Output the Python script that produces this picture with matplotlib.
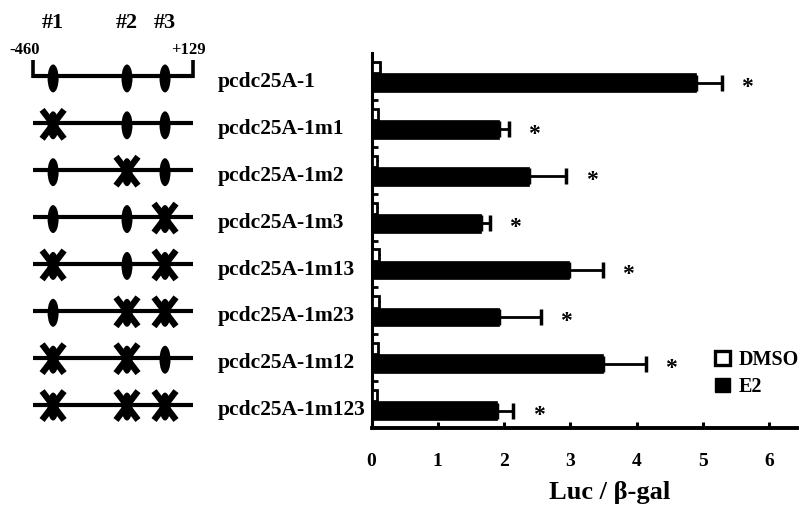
#!/usr/bin/env python3

import numpy as np
import matplotlib
matplotlib.use("Agg")
import matplotlib.pyplot as plt
from matplotlib.patches import Ellipse, Patch


##### data #####
CONSTRUCTS = ["pcdc25A-1", "pcdc25A-1m1", "pcdc25A-1m2", "pcdc25A-1m3",
              "pcdc25A-1m13", "pcdc25A-1m23", "pcdc25A-1m12", "pcdc25A-1m123"]

# which E2 response sites (1, 2, 3) are mutated in each construct
MUTATED = [[], [1], [2], [3], [1, 3], [2, 3], [1, 2], [1, 2, 3]]

DMSO = [0.13, 0.10, 0.09, 0.09, 0.12, 0.12, 0.10, 0.08]
DMSO_ERR = [0.03, 0.02, 0.02, 0.02, 0.03, 0.03, 0.02, 0.02]
E2 = [4.89, 1.92, 2.38, 1.65, 2.98, 1.92, 3.49, 1.90]
E2_ERR = [0.39, 0.15, 0.56, 0.14, 0.51, 0.64, 0.65, 0.24]

XTICKS = [0, 1, 2, 3, 4, 5, 6]

# promoter map (bp relative to transcription start)
PROMOTER_START = -460
PROMOTER_END = 129
SITE_POS = [-386, -114, 26]
SITE_NAMES = ["#1", "#2", "#3"]


##### layout #####
W, H = 799, 512
AX_LEFT, AX_RIGHT = 371.5, 797
AX_TOP, AX_BOTTOM = 53, 428
FONT = "Liberation Serif"

plt.rcParams["font.family"] = FONT
plt.rcParams["font.weight"] = "bold"

fig = plt.figure(figsize=(W / 100, H / 100), dpi=100)

ax = fig.add_axes([AX_LEFT / W, 1 - AX_BOTTOM / H,
                   (AX_RIGHT - AX_LEFT) / W, (AX_BOTTOM - AX_TOP) / H])
axd = fig.add_axes([0, 1 - AX_BOTTOM / H, AX_LEFT / W, (AX_BOTTOM - AX_TOP) / H],
                   sharey=ax)

n = len(CONSTRUCTS)
y = np.arange(n)

##### bars #####
y_dmso = y - 0.19
y_e2 = y + 0.13

ax.barh(y_dmso, DMSO, height=0.24, color="white", edgecolor="black",
        linewidth=2.0, zorder=3)
ax.errorbar(DMSO, y_dmso, xerr=[np.zeros(n), DMSO_ERR], fmt="none",
            ecolor="black", elinewidth=1.5, capsize=0, zorder=2)

ax.barh(y_e2, E2, height=0.40, color="black", edgecolor="black",
        linewidth=0.5, zorder=3)
ax.errorbar(E2, y_e2, xerr=[np.zeros(n), E2_ERR], fmt="none",
            ecolor="black", elinewidth=2.0, capsize=5.5, capthick=2.5, zorder=2)

for yi, v, e in zip(y_e2, E2, E2_ERR):
    ax.text(v + e + 0.38, yi + 0.1, "*", fontsize=17, fontweight="bold",
            ha="center", va="center")

ax.set_xlim(0, (AX_RIGHT - AX_LEFT) / 66.3)
ax.set_ylim(n - 0.5, -0.5)

ax.spines["top"].set_visible(False)
ax.spines["right"].set_visible(False)
ax.spines["left"].set_linewidth(2.2)
ax.spines["bottom"].set_linewidth(2.8)

ax.set_xticks(XTICKS)
ax.set_xticklabels([str(t) for t in XTICKS], fontsize=14, fontweight="bold")
ax.tick_params(axis="x", direction="in", length=4, width=2.2, pad=18)
ax.set_yticks(np.arange(n - 1) + 0.5)
ax.set_yticklabels([])
ax.tick_params(axis="y", direction="in", length=4, width=2.0)

ax.set_xlabel("Luc / \u03b2-gal", fontsize=19, fontweight="bold")
ax.xaxis.set_label_coords((610 - AX_LEFT) / (AX_RIGHT - AX_LEFT),
                          -(493 - AX_BOTTOM) / (AX_BOTTOM - AX_TOP))
ax.xaxis.label.set_va("center")

handles = [Patch(facecolor="white", edgecolor="black", linewidth=2.4, label="DMSO"),
           Patch(facecolor="black", edgecolor="black", label="E2")]
ax.legend(handles=handles, loc="upper left", frameon=False,
          bbox_to_anchor=(715 / W, 1 - 350 / H), bbox_transform=fig.transFigure,
          prop={"family": FONT, "weight": "bold", "size": 14.5},
          handlelength=0.75, handleheight=0.75, handletextpad=0.45,
          labelspacing=0.35, borderpad=0, borderaxespad=0)

##### promoter diagrams #####
px_per_bp = (193 - 33) / (PROMOTER_END - PROMOTER_START)
axd.set_xlim(PROMOTER_START - 33 / px_per_bp,
             PROMOTER_START + (AX_LEFT - 33) / px_per_bp)
axd.axis("off")

bp = 1 / px_per_bp          # bp per pixel
row = 1 / 47.0              # category units per pixel

for i, name in enumerate(CONSTRUCTS):
    axd.plot([PROMOTER_START, PROMOTER_END], [i, i], color="black",
             linewidth=3.0, solid_capstyle="butt", zorder=1)
    for k, xs in enumerate(SITE_POS):
        axd.add_patch(Ellipse((xs, i + 2 * row), 11 * bp, 28 * row,
                              facecolor="black", edgecolor="none", zorder=2))
        if (k + 1) in MUTATED[i]:
            dx, dy = 11 * bp, 13.5 * row
            axd.plot([xs - dx, xs + dx], [i - dy, i + dy + 2 * row],
                     color="black", linewidth=4.6, solid_capstyle="butt", zorder=3)
            axd.plot([xs - dx, xs + dx], [i + dy + 2 * row, i - dy],
                     color="black", linewidth=4.6, solid_capstyle="butt", zorder=3)
    axd.text(PROMOTER_START + (218 - 33) / px_per_bp, i + 0.12, name,
             fontsize=15.5, fontweight="bold", ha="left", va="center")

# end brackets on the wild-type map
for xe in [PROMOTER_START, PROMOTER_END]:
    axd.plot([xe, xe], [0 + 1.5 * row, 0 - 16 * row], color="black",
             linewidth=2.6, solid_capstyle="butt", clip_on=False)

axd.text(PROMOTER_START - 8 / px_per_bp, -0.5 - 3 * row, "-460", fontsize=12,
         fontweight="bold", ha="center", va="center")
axd.text(PROMOTER_END - 5 / px_per_bp, -0.5 - 3 * row, "+129", fontsize=12,
         fontweight="bold", ha="center", va="center")

for xs, lab in zip(SITE_POS, SITE_NAMES):
    axd.text(xs, -0.5 - 30 * row, lab, fontsize=16, fontweight="bold",
             ha="center", va="center")

fig.savefig("out.png", dpi=100)
plt.close(fig)
